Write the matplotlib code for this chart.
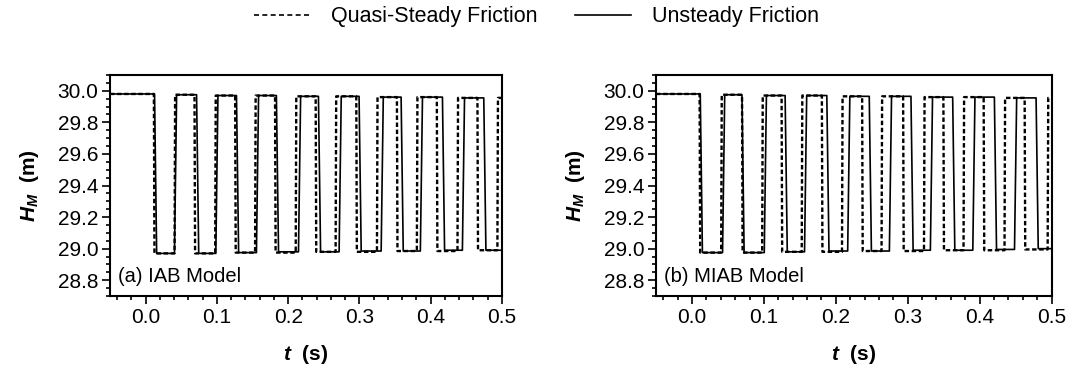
import numpy as np
import matplotlib.pyplot as plt
from matplotlib.ticker import MultipleLocator
from matplotlib.lines import Line2D

plt.rcParams['font.family'] = ['Liberation Sans', 'DejaVu Sans']
plt.rcParams['mathtext.fontset'] = 'custom'
plt.rcParams['mathtext.it'] = 'Liberation Sans:italic:bold'
plt.rcParams['mathtext.rm'] = 'Liberation Sans:bold'

t_start = -0.05
t_end = 0.5
h_initial = 29.98

# switching times (s) of the head at the valve, alternating drop / rise
t_qs_a = [0.012, 0.041, 0.069, 0.098, 0.126, 0.154, 0.182, 0.211, 0.239,
          0.267, 0.296, 0.325, 0.353, 0.381, 0.409, 0.438, 0.466, 0.494]
t_us_a = [0.014, 0.042, 0.073, 0.100, 0.129, 0.157, 0.185, 0.216, 0.244,
          0.273, 0.301, 0.332, 0.360, 0.387, 0.418, 0.446, 0.476]
t_qs_b = [0.011, 0.041, 0.070, 0.098, 0.125, 0.153, 0.181, 0.209, 0.237,
          0.264, 0.294, 0.323, 0.350, 0.378, 0.406, 0.435, 0.463, 0.495]
t_us_b = [0.013, 0.044, 0.071, 0.102, 0.131, 0.158, 0.189, 0.218, 0.248,
          0.276, 0.306, 0.333, 0.364, 0.392, 0.422, 0.450, 0.480]

# head (m) right after each switch
h_qs_a = [28.97, 29.975, 28.97, 29.97, 28.975, 29.97, 28.975, 29.965, 28.98,
          29.965, 28.98, 29.96, 28.985, 29.96, 28.985, 29.955, 28.99, 29.955]
h_us_a = [28.97, 29.975, 28.97, 29.97, 28.975, 29.97, 28.98, 29.965, 28.98,
          29.965, 28.985, 29.96, 28.985, 29.96, 28.99, 29.955, 28.99]
h_qs_b = [28.975, 29.975, 28.975, 29.97, 28.98, 29.97, 28.98, 29.965, 28.985,
          29.965, 28.985, 29.96, 28.99, 29.96, 28.99, 29.955, 28.995, 29.955]
h_us_b = [28.975, 29.975, 28.975, 29.97, 28.98, 29.97, 28.985, 29.965, 28.985,
          29.965, 28.99, 29.96, 28.99, 29.96, 28.995, 29.955, 29.0]

panel_labels = ['(a) IAB Model', '(b) MIAB Model']


def square_wave(times, levels, ramp):
    t = [t_start]
    h = [h_initial]
    for ts, hs in zip(times, levels):
        t += [ts - ramp / 2, ts + ramp / 2]
        h += [h[-1], hs]
    t.append(t_end)
    h.append(h[-1])
    return t, h


fig = plt.figure(figsize=(10.73, 3.73), dpi=100)
ax_a = fig.add_axes([0.1025, 0.2064, 0.3653, 0.5925])
ax_b = fig.add_axes([0.6114, 0.2064, 0.3686, 0.5925])

series = [(ax_a, t_qs_a, h_qs_a, t_us_a, h_us_a),
          (ax_b, t_qs_b, h_qs_b, t_us_b, h_us_b)]

for (ax, tq, hq, tu, hu), label in zip(series, panel_labels):
    x, y = square_wave(tq, hq, 0.0008)
    ax.plot(x, y, color='black', lw=1.7, ls=(0, (1.9, 1.1)))
    x, y = square_wave(tu, hu, 0.003)
    ax.plot(x, y, color='black', lw=1.2)

    ax.set_xlim(t_start, t_end)
    ax.set_ylim(28.7, 30.1)
    ax.xaxis.set_major_locator(MultipleLocator(0.1))
    ax.xaxis.set_minor_locator(MultipleLocator(0.02))
    ax.yaxis.set_major_locator(MultipleLocator(0.2))
    ax.yaxis.set_minor_locator(MultipleLocator(0.05))
    ax.xaxis.set_major_formatter(lambda v, p: f'{v:.1f}')
    ax.yaxis.set_major_formatter(lambda v, p: f'{v:.1f}')
    ax.tick_params(which='major', direction='out', length=5.5, width=1.2,
                   labelsize=15, pad=3)
    ax.tick_params(which='minor', direction='out', length=3, width=1.2)
    for s in ax.spines.values():
        s.set_linewidth(1.5)

    ax.set_xlabel(r'$t$  (s)', fontsize=15, fontweight='bold', labelpad=12)
    ax.set_ylabel(r'$H_M$  (m)', fontsize=15, fontweight='bold', labelpad=12)
    ax.text(0.02, 0.09, label, transform=ax.transAxes, fontsize=14.5,
            ha='left', va='center')

handles = [Line2D([], [], color='black', lw=1.2, ls=(0, (3, 2))),
           Line2D([], [], color='black', lw=1.2)]
fig.legend(handles, ['Quasi-Steady Friction', 'Unsteady Friction'],
           loc='upper center', bbox_to_anchor=(0.5, 1.035), ncol=2,
           frameon=False, fontsize=15.5, handlelength=2.6,
           handletextpad=1.0, columnspacing=1.7)

fig.savefig('out.png', dpi=100)
